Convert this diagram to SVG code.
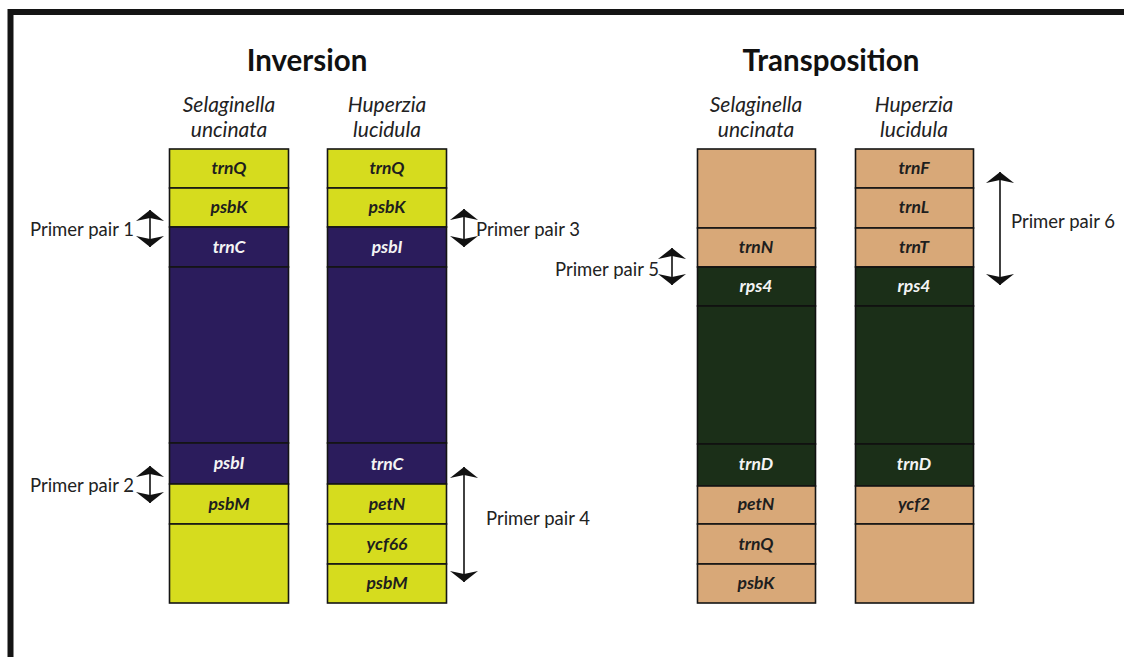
<svg xmlns="http://www.w3.org/2000/svg" width="1124" height="657" viewBox="0 0 1124 657">
<style>
.title{font-family:Lato,"Open Sans",sans-serif;font-weight:bold;font-size:29.5px;fill:#111;text-anchor:middle}
.sp{font-family:Lato,"Open Sans",sans-serif;font-style:italic;font-size:21px;fill:#222;text-anchor:middle}
.gene{font-family:Lato,"Open Sans",sans-serif;font-style:italic;font-weight:bold;font-size:17.5px;text-anchor:middle}
.dk{fill:#1e1e1e}
.lt{fill:#f4f4f4}
.pl{font-family:Lato,"Open Sans",sans-serif;font-size:18.5px;fill:#222}
.y{fill:#d6dc1e;stroke:#151515;stroke-width:1.6}
.p{fill:#2b1c5c;stroke:#141414;stroke-width:1.6}
.g{fill:#1b2f18;stroke:#111;stroke-width:1.6}
.t{fill:#d8a878;stroke:#151515;stroke-width:1.6}
.arr{stroke:#111;stroke-width:1.6;fill:none;marker-start:url(#ah);marker-end:url(#ah)}
</style>
<defs>
<marker id="ah" markerUnits="userSpaceOnUse" markerWidth="30" markerHeight="32" viewBox="-12 -16 14 32" refX="0" refY="0" orient="auto-start-reverse">
<path d="M0,0 L-11,-14 L-8,0 L-11,14 Z" fill="#111"/>
</marker>
</defs>
<rect width="1124" height="657" fill="#fff"/>
<path d="M10.5,657 V12 H1124" fill="none" stroke="#141414" stroke-width="6"/>

<text class="title" x="307" y="71">Inversion</text>
<text class="title" x="831" y="71">Transposition</text>

<g id="col-inv-selaginella">
<text class="sp" x="229" y="112">Selaginella</text>
<text class="sp" x="229" y="137">uncinata</text>
<rect class="y" x="169.5" y="149" width="119" height="39"/>
<rect class="y" x="169.5" y="188" width="119" height="39"/>
<rect class="p" x="169.5" y="227" width="119" height="40"/>
<rect class="p" x="169.5" y="267" width="119" height="176"/>
<rect class="p" x="169.5" y="443" width="119" height="41"/>
<rect class="y" x="169.5" y="484" width="119" height="40"/>
<rect class="y" x="169.5" y="524" width="119" height="79"/>
<text class="gene dk" x="229" y="174">trnQ</text>
<text class="gene dk" x="229" y="213">psbK</text>
<text class="gene lt" x="229" y="253">trnC</text>
<text class="gene lt" x="229" y="469">psbI</text>
<text class="gene dk" x="229" y="510">psbM</text>
</g>

<g id="col-inv-huperzia">
<text class="sp" x="387" y="112">Huperzia</text>
<text class="sp" x="387" y="137">lucidula</text>
<rect class="y" x="327.5" y="149" width="119" height="39"/>
<rect class="y" x="327.5" y="188" width="119" height="39"/>
<rect class="p" x="327.5" y="227" width="119" height="40"/>
<rect class="p" x="327.5" y="267" width="119" height="176"/>
<rect class="p" x="327.5" y="443" width="119" height="41"/>
<rect class="y" x="327.5" y="484" width="119" height="40"/>
<rect class="y" x="327.5" y="524" width="119" height="40"/>
<rect class="y" x="327.5" y="564" width="119" height="39"/>
<text class="gene dk" x="387" y="174">trnQ</text>
<text class="gene dk" x="387" y="213">psbK</text>
<text class="gene lt" x="387" y="253">psbI</text>
<text class="gene lt" x="387" y="470">trnC</text>
<text class="gene dk" x="387" y="510">petN</text>
<text class="gene dk" x="387" y="550">ycf66</text>
<text class="gene dk" x="387" y="589">psbM</text>
</g>

<g id="col-tr-selaginella">
<text class="sp" x="756" y="112">Selaginella</text>
<text class="sp" x="756" y="137">uncinata</text>
<rect class="t" x="697.5" y="149" width="118" height="79"/>
<rect class="t" x="697.5" y="228" width="118" height="39"/>
<rect class="g" x="697.5" y="267" width="118" height="39"/>
<rect class="g" x="697.5" y="306" width="118" height="138"/>
<rect class="g" x="697.5" y="444" width="118" height="42"/>
<rect class="t" x="697.5" y="486" width="118" height="38"/>
<rect class="t" x="697.5" y="524" width="118" height="40"/>
<rect class="t" x="697.5" y="564" width="118" height="39"/>
<text class="gene dk" x="756" y="253">trnN</text>
<text class="gene lt" x="756" y="292">rps4</text>
<text class="gene lt" x="756" y="470">trnD</text>
<text class="gene dk" x="756" y="510">petN</text>
<text class="gene dk" x="756" y="550">trnQ</text>
<text class="gene dk" x="756" y="589">psbK</text>
</g>

<g id="col-tr-huperzia">
<text class="sp" x="914" y="112">Huperzia</text>
<text class="sp" x="914" y="137">lucidula</text>
<rect class="t" x="855.5" y="149" width="118" height="39"/>
<rect class="t" x="855.5" y="188" width="118" height="40"/>
<rect class="t" x="855.5" y="228" width="118" height="39"/>
<rect class="g" x="855.5" y="267" width="118" height="39"/>
<rect class="g" x="855.5" y="306" width="118" height="138"/>
<rect class="g" x="855.5" y="444" width="118" height="42"/>
<rect class="t" x="855.5" y="486" width="118" height="38"/>
<rect class="t" x="855.5" y="524" width="118" height="79"/>
<text class="gene dk" x="914" y="174">trnF</text>
<text class="gene dk" x="914" y="213">trnL</text>
<text class="gene dk" x="914" y="253">trnT</text>
<text class="gene lt" x="914" y="292">rps4</text>
<text class="gene lt" x="914" y="470">trnD</text>
<text class="gene dk" x="914" y="510">ycf2</text>
</g>

<g id="connectors">
<line class="arr" x1="150" y1="210" x2="150" y2="247"/>
<line class="arr" x1="150" y1="466" x2="150" y2="503"/>
<line class="arr" x1="464" y1="209" x2="464" y2="247"/>
<line class="arr" x1="464" y1="467" x2="464" y2="582"/>
<line class="arr" x1="672" y1="248" x2="672" y2="285"/>
<line class="arr" x1="1000" y1="172" x2="1000" y2="285"/>
</g>

<g id="labels">
<text class="pl" x="30" y="236">Primer pair 1</text>
<text class="pl" x="30" y="492">Primer pair 2</text>
<text class="pl" x="476" y="236">Primer pair 3</text>
<text class="pl" x="486" y="525">Primer pair 4</text>
<text class="pl" x="555" y="276">Primer pair 5</text>
<text class="pl" x="1011" y="228">Primer pair 6</text>
</g>
</svg>
